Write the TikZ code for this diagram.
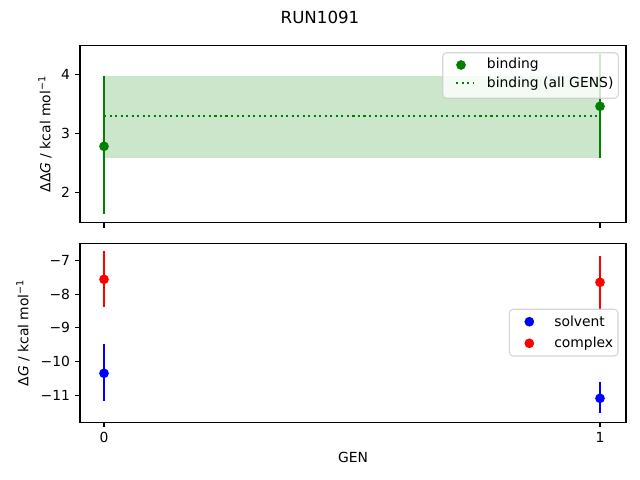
\documentclass[tikz,border=0pt]{standalone}
\usepackage{fontspec}
\setmainfont{DejaVu Sans}
\definecolor{mplgreen}{RGB}{0,128,0}
\definecolor{mplfill}{RGB}{204,230,204}
\definecolor{mplblue}{RGB}{0,0,255}
\definecolor{mplred}{RGB}{255,0,0}
\definecolor{legedge}{RGB}{204,204,204}
\begin{document}
\begin{tikzpicture}[x=0.72bp,y=-0.72bp,
  lbl/.style={font=\fontsize{10bp}{12bp}\selectfont, inner sep=0pt},
  axisframe/.style={line width=0.8bp, black},
  tickmark/.style={line width=0.8bp, black},
  ebar/.style={line width=1.5bp},
  legbox/.style={draw=legedge, draw opacity=0.8, fill=white, fill opacity=0.8, line width=0.8bp, rounded corners=2.8bp}]
\fill[white] (0,0) rectangle (640,480);
\useasboundingbox (0,0) rectangle (640,480);
\def\mr{3.5bp}
% title
\node[lbl, font=\fontsize{12bp}{14bp}\selectfont] (title) at (320,17) {RUN1091};

% ---------- top axes ----------
\fill[mplfill] (104,75.7) rectangle (600,157.7);
\draw[mplgreen, line width=1.5bp, dash pattern=on 1.5bp off 2.475bp] (104,116) -- (600,116);
\draw[ebar, mplgreen] (104,76) -- (104,214.3);
\draw[ebar, mplgreen] (600,54) -- (600,158);
\fill[mplgreen] (104,146.3) circle[radius=\mr];
\fill[mplgreen] (600,106.3) circle[radius=\mr];
\draw[axisframe] (80,45.3) rectangle (626,222.7);
\foreach \v/\py in {4/74.3,3/133.3,2/192.7}{
  \draw[tickmark] (80,\py) -- ++(-4.86,0);
  \node[lbl, anchor=east] at (70.3,\py) {\v};
}
\foreach \px in {104,600}{
  \draw[tickmark] (\px,222.7) -- ++(0,4.86);
}
\node[lbl, rotate=90] (ylabtop) at (45,134) {ΔΔ\textit{G} / kcal mol\textsuperscript{−1}};
% legend top
\draw[legbox] (442.7,52.7) rectangle (618.3,98.3);
\fill[mplgreen] (461,65) circle[radius=\mr];
\draw[mplgreen, line width=1.5bp, dash pattern=on 1.5bp off 2.475bp] (456,83.3) -- (474,83.3);
\node[lbl, anchor=west] (legbind) at (486.7,65) {binding};
\node[lbl, anchor=west] (legall) at (486.7,83.3) {binding (all GENS)};

% ---------- bottom axes ----------
\draw[ebar, mplred] (104,251) -- (104,306.7);
\draw[ebar, mplblue] (104,344) -- (104,400.7);
\draw[ebar, mplred] (600,255.7) -- (600,309);
\draw[ebar, mplblue] (600,382) -- (600,413.3);
\fill[mplred] (104,279.3) circle[radius=\mr];
\fill[mplblue] (104,373.3) circle[radius=\mr];
\fill[mplred] (600,282.3) circle[radius=\mr];
\fill[mplblue] (600,398.3) circle[radius=\mr];
\draw[axisframe] (80,243.3) rectangle (626,422.3);
\foreach \v/\py in {7/260.7,8/294.3,9/327.9,10/361.5,11/395.1}{
  \draw[tickmark] (80,\py) -- ++(-4.86,0);
  \node[lbl, anchor=east] at (70.3,\py) {−\v};
}
\foreach \px/\v in {104/0,600/1}{
  \draw[tickmark] (\px,422.3) -- ++(0,4.86);
  \node[lbl] at (\px,437.5) {\v};
}
\node[lbl, rotate=90] (ylabbot) at (23,332.8) {Δ\textit{G} / kcal mol\textsuperscript{−1}};
\node[lbl] (xlab) at (353,457) {GEN};
% legend bottom
\draw[legbox] (509.3,309.3) rectangle (618,356);
\fill[mplblue] (529.3,321.7) circle[radius=\mr];
\fill[mplred] (529.3,343.3) circle[radius=\mr];
\node[lbl, anchor=west] (legsolv) at (554,321.7) {solvent};
\node[lbl, anchor=west] (legcomp) at (554,343.3) {complex};
\end{tikzpicture}
\end{document}
